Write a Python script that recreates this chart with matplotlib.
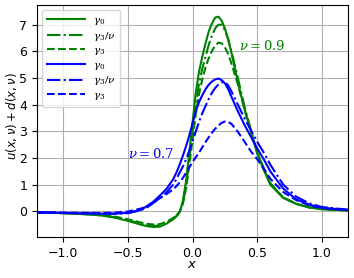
import matplotlib
matplotlib.use("Agg")
import matplotlib.pyplot as plt

# sample points
x = [-1.2, -1.0, -0.8, -0.7, -0.6, -0.5, -0.4, -0.35, -0.3, -0.25, -0.2, -0.15,
     -0.125, -0.1, -0.075, -0.05, -0.025, 0.0, 0.025, 0.05, 0.075, 0.1, 0.125, 0.15,
     0.175, 0.2, 0.225, 0.25, 0.275, 0.3, 0.35, 0.4, 0.45, 0.5,
     0.55, 0.6, 0.7, 0.8, 0.9, 1.0, 1.2]

# nu = 0.9 (green)
g_gamma0 = [-0.04, -0.07, -0.12, -0.16, -0.24, -0.36, -0.50, -0.56, -0.59, -0.57, -0.46, -0.30,
            -0.19, -0.04, 0.38, 1.15, 2.2, 3.35, 4.45, 5.25, 5.8, 6.3, 6.75, 7.05,
            7.27, 7.3, 7.15, 6.85, 6.45, 5.95, 4.85, 3.85, 3.0, 2.15,
            1.55, 1.0, 0.5, 0.28, 0.14, 0.08, 0.03]
g_gamma3nu = [-0.04, -0.07, -0.11, -0.15, -0.22, -0.33, -0.46, -0.52, -0.55, -0.53, -0.43, -0.28,
              -0.18, -0.03, 0.3, 0.95, 1.95, 3.0, 4.0, 4.8, 5.35, 5.8, 6.25, 6.6,
              6.87, 7.0, 7.0, 6.8, 6.45, 6.0, 5.0, 3.95, 3.05, 2.2,
              1.6, 1.05, 0.52, 0.28, 0.15, 0.08, 0.03]
g_gamma3 = [-0.04, -0.07, -0.11, -0.14, -0.20, -0.30, -0.42, -0.47, -0.50, -0.48, -0.39, -0.25,
            -0.15, -0.01, 0.3, 0.85, 1.75, 2.7, 3.65, 4.4, 4.95, 5.4, 5.75, 6.02,
            6.22, 6.33, 6.3, 6.15, 5.9, 5.55, 4.75, 3.85, 3.0, 2.2,
            1.6, 1.05, 0.52, 0.28, 0.15, 0.08, 0.03]

# nu = 0.7 (blue)
b_gamma0 = [-0.04, -0.06, -0.08, -0.09, -0.09, -0.06, 0.05, 0.2, 0.37, 0.6, 0.85, 1.2,
            1.45, 1.75, 2.08, 2.45, 2.85, 3.3, 3.75, 4.1, 4.35, 4.58, 4.75, 4.87,
            4.95, 4.98, 4.92, 4.8, 4.58, 4.3, 3.75, 3.25, 2.8, 2.35,
            1.95, 1.5, 0.85, 0.45, 0.25, 0.13, 0.05]
b_gamma3nu = [-0.04, -0.06, -0.08, -0.09, -0.09, -0.07, 0.04, 0.15, 0.32, 0.5, 0.72, 1.0,
              1.2, 1.45, 1.68, 1.95, 2.28, 2.62, 3.0, 3.35, 3.68, 3.95, 4.22, 4.45,
              4.63, 4.76, 4.84, 4.85, 4.72, 4.5, 4.0, 3.5, 3.05, 2.6,
              2.2, 1.75, 1.0, 0.55, 0.3, 0.16, 0.06]
b_gamma3 = [-0.03, -0.05, -0.06, -0.06, -0.05, -0.01, 0.1, 0.2, 0.35, 0.5, 0.65, 0.82,
            0.94, 1.08, 1.25, 1.45, 1.65, 1.85, 2.03, 2.2, 2.4, 2.6, 2.78, 2.95,
            3.1, 3.22, 3.32, 3.37, 3.35, 3.28, 2.98, 2.62, 2.25, 1.95,
            1.6, 1.22, 0.72, 0.42, 0.22, 0.12, 0.04]

labels = [r"$\gamma_0$", r"$\gamma_3/\nu$", r"$\gamma_3$"]


def main():
    fig = plt.figure(figsize=(3.54, 2.78), dpi=100)
    ax = fig.add_axes([0.105, 0.147, 0.878, 0.835])

    ax.plot(x, g_gamma0, color="green", lw=1.5, ls="-", label=labels[0])
    ax.plot(x, g_gamma3nu, color="green", lw=1.5, ls="-.", label=labels[1])
    ax.plot(x, g_gamma3, color="green", lw=1.5, ls="--", label=labels[2])
    ax.plot(x, b_gamma0, color="blue", lw=1.5, ls="-", label=labels[0])
    ax.plot(x, b_gamma3nu, color="blue", lw=1.5, ls="-.", label=labels[1])
    ax.plot(x, b_gamma3, color="blue", lw=1.5, ls="--", label=labels[2])

    ax.text(0.36, 6.2, r"$\nu = 0.9$", color="green", fontsize=9.5,
            va="center", math_fontfamily="dejavuserif")
    ax.text(-0.5, 2.15, r"$\nu = 0.7$", color="blue", fontsize=9.5,
            va="center", math_fontfamily="dejavuserif")

    ax.set_xlim(-1.2, 1.2)
    ax.set_ylim(-0.97, 7.74)
    ax.set_xticks([-1.0, -0.5, 0.0, 0.5, 1.0])
    ax.set_yticks(range(0, 8))
    ax.tick_params(labelsize=9)
    ax.set_xlabel(r"$x$", fontsize=9.5, labelpad=-1)
    ax.set_ylabel(r"$u(x,\nu)+d(x,\nu)$", fontsize=8.5)
    ax.yaxis.set_label_coords(-0.058, 0.52)
    ax.grid(True, color="#b0b0b0", lw=0.8)

    leg = ax.legend(loc="upper left", fontsize=7.5, handlelength=3.6,
                    labelspacing=0.25, borderpad=0.45, handletextpad=0.8)
    for t in leg.get_texts():
        t.set_math_fontfamily("dejavuserif")

    fig.savefig("out.png", dpi=100)


if __name__ == "__main__":
    main()
